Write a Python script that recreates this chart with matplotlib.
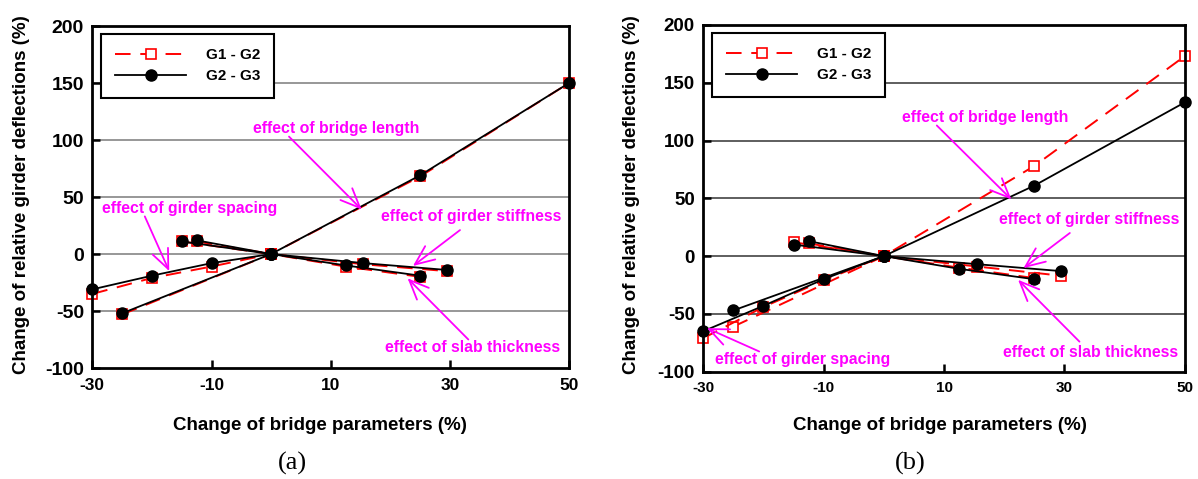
import matplotlib
matplotlib.use("Agg")
import matplotlib.pyplot as plt
from matplotlib.lines import Line2D

plt.rcParams['font.family'] = ['Liberation Sans', 'DejaVu Sans']
plt.rcParams['font.weight'] = 'bold'
plt.rcParams['axes.unicode_minus'] = False

# Parameter changes (%) for each studied effect
length_x = [-25, 0, 25, 50]
spacing_x = [-30, -20, -10, 0]
stiff_x = [-12.5, 0, 15.5, 29.5]
slab_x = [-15, 0, 12.5, 25]

# Panel (a): change of relative girder deflections (%)
a_len_g12 = [-53, 0, 68, 150]
a_len_g23 = [-52, 0, 69, 150]
a_sp_g12 = [-35, -21, -11, 0]
a_sp_g23 = [-31, -19, -8, 0]
a_st_g12 = [11, 0, -9, -15]
a_st_g23 = [12, 0, -8, -14]
a_sl_g12 = [11, 0, -11, -20]
a_sl_g23 = [11, 0, -10, -19]

# Panel (b)
b_len_g12 = [-61, 0, 78, 173]
b_len_g23 = [-47, 0, 61, 133]
b_sp_g12 = [-71, -44, -21, 0]
b_sp_g23 = [-65, -43, -20, 0]
b_st_g12 = [11, 0, -9, -17]
b_st_g23 = [13, 0, -7, -13]
b_sl_g12 = [12, 0, -10, -19]
b_sl_g23 = [10, 0, -11, -20]

x_ticks = [-30, -10, 10, 30, 50]
y_ticks = [-100, -50, 0, 50, 100, 150, 200]
series_names = ['G1 - G2', 'G2 - G3']

MAG = '#ff00ff'
red_kw = dict(color='#ff0000', lw=1.4, dashes=(8, 5), marker='s', ms=6.5,
              mfc='white', mec='#ff0000', mew=1.2, zorder=3)
blk_kw = dict(color='black', lw=1.3, marker='o', ms=8, mfc='black',
              mec='black', zorder=4)

fig = plt.figure(figsize=(11.98, 4.79), dpi=100)
ax_a = fig.add_axes([0.0771, 0.2317, 0.3979, 0.714])
ax_b = fig.add_axes([0.587, 0.224, 0.402, 0.724])


def draw_panel(ax, g12_sets, g23_sets, grid_color, xsize, ysize):
    xs = [length_x, spacing_x, stiff_x, slab_x]
    for x, y in zip(xs, g12_sets):
        ax.plot(x, y, clip_on=False, **red_kw)
    for x, y in zip(xs, g23_sets):
        ax.plot(x, y, clip_on=False, **blk_kw)
    ax.set_xlim(-30, 50)
    ax.set_ylim(-100, 200)
    ax.set_xticks(x_ticks)
    ax.set_yticks(y_ticks)
    for yt in y_ticks[1:-1]:
        ax.axhline(yt, color=grid_color, lw=1.1, zorder=1)
    for sp in ax.spines.values():
        sp.set_linewidth(2.0)
        sp.set_zorder(5)
    ax.tick_params(direction='in', length=6, width=1.8, pad=6)
    ax.tick_params(axis='x', labelsize=xsize, pad=7)
    ax.tick_params(axis='y', labelsize=ysize)
    for lab in ax.get_xticklabels() + ax.get_yticklabels():
        lab.set_fontweight('bold')
    handles = [Line2D([], [], **red_kw), Line2D([], [], **blk_kw)]
    leg = ax.legend(handles, series_names, loc='upper left',
                    bbox_to_anchor=(0.018, 0.977), borderaxespad=0,
                    fancybox=False, framealpha=1, edgecolor='black',
                    handlelength=4.6, handletextpad=1.3, borderpad=0.95,
                    labelspacing=0.45, prop=dict(size=11, weight='bold'))
    leg.get_frame().set_linewidth(1.5)
    leg.set_zorder(6)


def note(ax, text, txy, tail, tip, ha='left'):
    ax.text(txy[0], txy[1], text, color=MAG, fontsize=11.4, fontweight='bold',
            ha=ha, va='center', zorder=7)
    ax.annotate('', xy=tip, xytext=tail,
                arrowprops=dict(arrowstyle='->,head_length=0.7,head_width=0.3',
                                color=MAG, lw=1.3, shrinkA=0, shrinkB=0,
                                mutation_scale=20), zorder=7)


draw_panel(ax_a, [a_len_g12, a_sp_g12, a_st_g12, a_sl_g12],
           [a_len_g23, a_sp_g23, a_st_g23, a_sl_g23], '#7a7a7a', 12.5, 14)
draw_panel(ax_b, [b_len_g12, b_sp_g12, b_st_g12, b_sl_g12],
           [b_len_g23, b_sp_g23, b_st_g23, b_sl_g23], '#333333', 11, 13.5)

note(ax_a, 'effect of bridge length', (11.0, 110), (3.0, 103), (15.2, 39), ha='center')
note(ax_a, 'effect of girder spacing', (-28.4, 40), (-21.2, 33), (-17.1, -15))
note(ax_a, 'effect of girder stiffness', (18.4, 33), (31.7, 21), (23.8, -10.5))
note(ax_a, 'effect of slab thickness', (19.1, -82), (33.1, -75), (22.9, -21.3))

note(ax_b, 'effect of bridge length', (3.1, 120), (8.8, 113), (21.2, 49))
note(ax_b, 'effect of girder stiffness', (19.2, 31.5), (30.9, 20), (23.2, -10.4))
note(ax_b, 'effect of slab thickness', (19.8, -83.5), (32.5, -74), (22.3, -20.5))
note(ax_b, 'effect of girder spacing', (-28.0, -89.7), (-20.7, -82.5), (-29.4, -62.3))

xlabel = 'Change of bridge parameters (%)'
ylabel = 'Change of relative girder deflections (%)'
fig.text(320 / 1198, 1 - 425 / 479, xlabel, ha='center', va='center',
         fontsize=13.5, fontweight='bold')
fig.text(940 / 1198, 1 - 426 / 479, xlabel, ha='center', va='center',
         fontsize=13.5, fontweight='bold')
fig.text(22 / 1198, 1 - 195 / 479, ylabel, ha='center', va='center',
         rotation=90, fontsize=13.5, fontweight='bold')
fig.text(632 / 1198, 1 - 195 / 479, ylabel, ha='center', va='center',
         rotation=90, fontsize=13.5, fontweight='bold')
fig.text(292 / 1198, 1 - 463 / 479, '(a)', ha='center', va='center',
         fontsize=19, fontweight='normal', family='Liberation Serif')
fig.text(910 / 1198, 1 - 463 / 479, '(b)', ha='center', va='center',
         fontsize=19, fontweight='normal', family='Liberation Serif')

fig.savefig('out.png', dpi=100, facecolor='white')
